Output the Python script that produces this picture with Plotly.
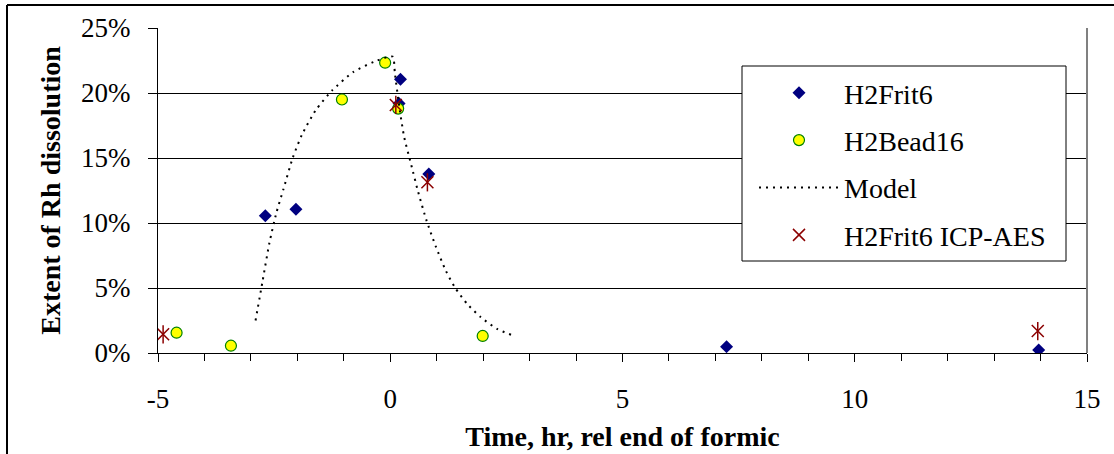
import plotly.graph_objects as go

# Measured dissolution extent (fraction) vs time relative to end of formic addition (hr)
frit_t = [-2.69, -2.03, 0.22, 0.19, 0.83, 7.24, 13.96]
frit_y = [0.1056, 0.1105, 0.2105, 0.192, 0.1377, 0.0049, 0.0023]

bead_t = [-4.60, -3.43, -1.04, -0.11, 0.17, 1.99]
bead_y = [0.0156, 0.0056, 0.195, 0.2233, 0.188, 0.0131]

icp_t = [-4.89, 0.12, 0.80, 13.94]
icp_y = [0.0144, 0.1908, 0.1313, 0.0169]

model_t = [-2.90, -2.75, -2.60, -2.45, -2.30, -2.10, -1.90, -1.60, -1.25, -0.80,
           -0.35, 0.05, 0.10, 0.20, 0.30, 0.45, 0.60, 0.78, 0.98, 1.20,
           1.40, 1.65, 1.95, 2.30, 2.60]
model_y = [0.025, 0.055, 0.085, 0.108, 0.126, 0.150, 0.168, 0.187, 0.202, 0.216,
           0.224, 0.228, 0.215, 0.188, 0.166, 0.145, 0.124, 0.102, 0.082, 0.063,
           0.050, 0.038, 0.0275, 0.0185, 0.014]

x_ticks = [-5, 0, 5, 10, 15]
y_ticks = [0, 0.05, 0.10, 0.15, 0.20, 0.25]

SERIF = "Times New Roman, Liberation Serif, serif"
ICP_RED = "#8B0000"

fig = go.Figure()

fig.add_trace(go.Scatter(
    x=frit_t, y=frit_y, mode="markers", name="H2Frit6", legendgroup="a",
    marker=dict(symbol="diamond", size=10, color="#000080",
                line=dict(width=0)),
))
fig.add_trace(go.Scatter(
    x=bead_t, y=bead_y, mode="markers", name="H2Bead16", legendgroup="b",
    marker=dict(symbol="circle", size=11, color="#FFFF00",
                line=dict(width=1.2, color="#008000")),
))
fig.add_trace(go.Scatter(
    x=model_t, y=model_y, mode="lines", name="Model", legendgroup="c",
    line=dict(color="black", width=2, dash="2px,5px", shape="spline", smoothing=0.6),
))
fig.add_trace(go.Scatter(
    x=icp_t, y=icp_y, mode="markers", name="H2Frit6 ICP-AES", legendgroup="d",
    marker=dict(symbol="x-thin-open", size=12, color=ICP_RED,
                line=dict(width=1.5, color=ICP_RED)),
))
# vertical stroke completing the star marker
fig.add_trace(go.Scatter(
    x=icp_t, y=icp_y, mode="markers", legendgroup="d", showlegend=False,
    hoverinfo="skip",
    marker=dict(symbol="line-ns-open", size=13, color=ICP_RED,
                line=dict(width=1.5, color=ICP_RED)),
))

L, R, T, B = 158, 27, 28, 101
W, H = 1114, 454
pw, ph = W - L - R, H - T - B


def px(xp):
    return (xp - L) / pw


def py(yp):
    return (H - B - yp) / ph


shapes = [
    # outer chart frame (top and left edges)
    dict(type="line", xref="paper", yref="paper", x0=px(7), x1=px(1114),
         y0=py(5), y1=py(5), line=dict(color="black", width=2)),
    dict(type="line", xref="paper", yref="paper", x0=px(7), x1=px(7),
         y0=py(5), y1=py(454), line=dict(color="black", width=2)),
    # right border of plot area
    dict(type="line", xref="paper", yref="paper", x0=1, x1=1,
         y0=0, y1=1, line=dict(color="#808080", width=2)),
    # legend box
    dict(type="rect", xref="paper", yref="paper", x0=px(742), x1=px(1066),
         y0=py(261), y1=py(66), line=dict(color="black", width=1),
         fillcolor="white", layer="above"),
]

fig.update_layout(
    width=W, height=H, autosize=False,
    margin=dict(l=L, r=R, t=T, b=B, pad=0),
    paper_bgcolor="white", plot_bgcolor="white",
    font=dict(family=SERIF, size=27, color="black"),
    showlegend=True,
    legend=dict(
        x=px(754), y=py(68), xanchor="left", yanchor="top",
        bgcolor="rgba(0,0,0,0)", borderwidth=0,
        font=dict(family=SERIF, size=28, color="black"),
        traceorder="grouped", tracegroupgap=8, itemwidth=80,
    ),
    shapes=shapes,
    xaxis=dict(
        range=[-5, 15], tickvals=x_ticks, ticktext=[str(v) for v in x_ticks],
        showgrid=False, zeroline=False, automargin=False,
        showline=True, linecolor="black", linewidth=1,
        ticks="outside", ticklen=8, tickcolor="black", tickwidth=1,
        minor=dict(dtick=1, ticks="outside", ticklen=7, tickcolor="black", showgrid=False),
        ticklabelstandoff=14,
        tickfont=dict(family=SERIF, size=27),
        title=dict(text="<b>Time, hr, rel end of formic</b>",
                   font=dict(family=SERIF, size=28), standoff=12),
    ),
    yaxis=dict(
        range=[0, 0.25], tickvals=y_ticks, tickformat=".0%",
        showgrid=True, gridcolor="black", gridwidth=1, zeroline=False,
        automargin=False,
        showline=True, linecolor="black", linewidth=1,
        ticks="outside", ticklen=9, tickcolor="black", tickwidth=1,
        ticklabelstandoff=12,
        tickfont=dict(family=SERIF, size=27),
        title=dict(text="<b>Extent of Rh dissolution</b>",
                   font=dict(family=SERIF, size=28), standoff=12),
    ),
)

fig.write_html("out.html")
